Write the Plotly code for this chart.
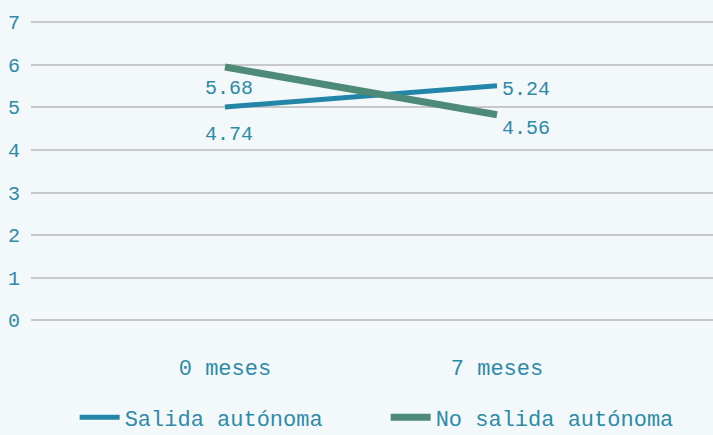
import plotly.graph_objects as go

# Survey periods and mean scores per group
periods = ["0 meses", "7 meses"]
salida_autonoma = [4.74, 5.24]
no_salida_autonoma = [5.68, 4.56]

# Y axis tick labels and the shift of their gridlines relative to the data scale
y_tick_labels = [0, 1, 2, 3, 4, 5, 6, 7]
grid_shift = 0.27

BLUE = "#2386a8"
GREEN = "#4d8b78"
TEXT = "#2e8aa9"
BG = "#f3f9fa"
FONT = "Liberation Mono, DejaVu Sans Mono, monospace"

fig = go.Figure()
fig.add_trace(go.Scatter(
    x=periods, y=salida_autonoma, mode="lines", name="Salida autónoma",
    line=dict(color=BLUE, width=5),
))
fig.add_trace(go.Scatter(
    x=periods, y=no_salida_autonoma, mode="lines", name="No salida autónoma",
    line=dict(color=GREEN, width=7),
))

# Value labels: left point labels sit under the point, right ones beside it
label_specs = [
    (periods[0], salida_autonoma[0], "center", 4, -27),
    (periods[1], salida_autonoma[1], "left", 3, -4),
    (periods[0], no_salida_autonoma[0], "center", 4, -21),
    (periods[1], no_salida_autonoma[1], "left", 3, -14),
]
for x, y, xa, xs, ys in label_specs:
    fig.add_annotation(
        x=x, y=y, text=f"{y:.2f}", showarrow=False,
        xanchor=xa, yanchor="middle", xshift=xs, yshift=ys,
        font=dict(family=FONT, size=20, color=TEXT),
    )

fig.update_layout(
    width=713, height=435,
    margin=dict(l=31, r=0, t=0, b=95, autoexpand=False),
    paper_bgcolor=BG, plot_bgcolor=BG,
    font=dict(family=FONT, size=22, color=TEXT),
    showlegend=True,
    legend=dict(
        orientation="h", x=0.064, xanchor="left", y=-0.228, yanchor="middle",
        font=dict(family=FONT, size=22, color=TEXT),
        itemwidth=40, entrywidth=256, bgcolor="rgba(0,0,0,0)",
    ),
    xaxis=dict(
        type="category", range=[-0.713, 1.794],
        showgrid=False, showline=False, zeroline=False, ticks="",
        ticklabelstandoff=12, tickfont=dict(size=22),
    ),
    yaxis=dict(
        range=[-0.733, 7.254],
        tickvals=[t - grid_shift for t in y_tick_labels],
        ticktext=[str(t) for t in y_tick_labels],
        showgrid=True, gridcolor="#c8c8c8", gridwidth=2,
        zeroline=False, showline=False, ticks="",
        ticklabelstandoff=10, tickfont=dict(size=20),
    ),
)

fig.write_html("out.html")
